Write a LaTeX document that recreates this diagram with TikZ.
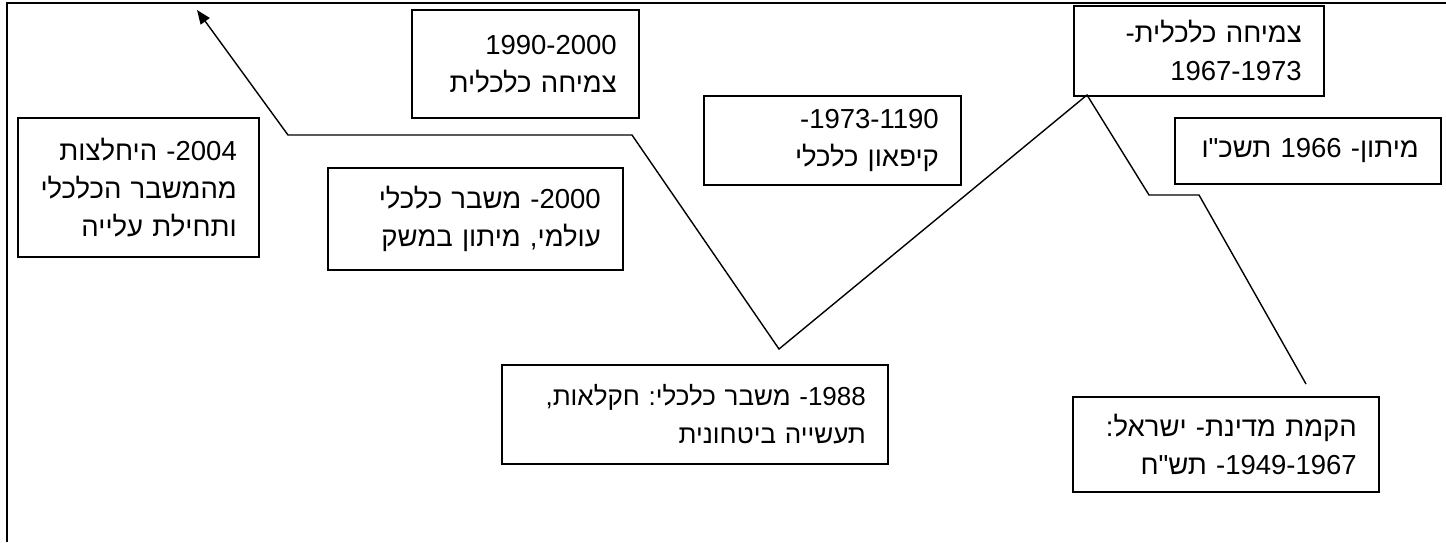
\documentclass[tikz,border=0pt]{standalone}
\usepackage{fontspec}
\newfontfamily\hebfont[Script=Hebrew]{Liberation Sans}
\newfontfamily\latfont{Liberation Sans}
\TeXXeTstate=1
\usetikzlibrary{arrows.meta}
\newcommand{\rl}[1]{\beginR #1\endR}
\newcommand{\lr}[1]{\beginL{\latfont #1}\endL}

\begin{document}
\frenchspacing
\begin{tikzpicture}[x=1pt, y=-1pt,
        event/.style={draw, line width=1.6pt, rectangle, anchor=north west, align=right,
          inner xsep=22pt, inner ysep=0pt, font=\hebfont\fontsize{27.5}{38}\selectfont},
        trend/.style={line width=1.4pt, line join=miter}]
      \useasboundingbox (0,0) rectangle (1446,542);
      % Frame
      \draw[line width=1.8pt] (7,542) -- (7,3) -- (1446,3);

      % Nodes
      \node[event, text width=197pt, minimum height=139pt] (recovery) at (17,117)
        {\rl{\lr{2004}- היחלצות}\\ \rl{מהמשבר הכלכלי}\\ \rl{ותחילת עלייה}};
      \node[event, text width=251pt, minimum height=102pt] (worldcrisis) at (327,167)
        {\rl{\lr{2000}- משבר כלכלי}\\ \rl{עולמי, מיתון במשק}};
      \node[event, text width=183pt, minimum height=108pt] (growthnineties) at (411,9)
        {\lr{1990-2000}\\ \rl{צמיחה כלכלית}};
      \node[event, text width=213pt, minimum height=89pt] (freeze) at (703,95)
        {\lr{-1973-1190}\\ \rl{קיפאון כלכלי}};
      \node[event, text width=206pt, minimum height=90pt] (growthsixties) at (1073,5)
        {\rl{צמיחה כלכלית-}\\ \lr{1967-1973}};
      \node[event, text width=222pt, minimum height=66pt] (recession) at (1174,117)
        {\rl{מיתון- \lr{1966} תשכ"ו}};
      \node[event, text width=342pt, minimum height=99pt,
            font=\hebfont\fontsize{26}{38}\selectfont] (crisiseighties) at (501,364)
        {\rl{\lr{1988}- משבר כלכלי: חקלאות,}\\ \rl{תעשייה ביטחונית}};
      \node[event, text width=262pt, minimum height=95pt] (founding) at (1072,396)
        {\rl{הקמת מדינת- ישראל:}\\ \rl{\lr{-1949-1967} תש"ח}};

      % Trend line
      \coordinate (start) at (1306,384);
      \coordinate (dip) at (1199,195);
      \coordinate (flat) at (1149,195);
      \coordinate (peak) at (1087,95);
      \coordinate (trough) at (779,349);
      \coordinate (climb) at (632,135);
      \coordinate (shelf) at (288,135);
      \coordinate (tip) at (197,10);
      \draw[trend, -{Triangle[length=14pt, width=11pt]}] (start) -- (dip) -- (flat) -- (peak)
        -- (trough) -- (climb) -- (shelf) -- (tip);
    \end{tikzpicture}
\end{document}
